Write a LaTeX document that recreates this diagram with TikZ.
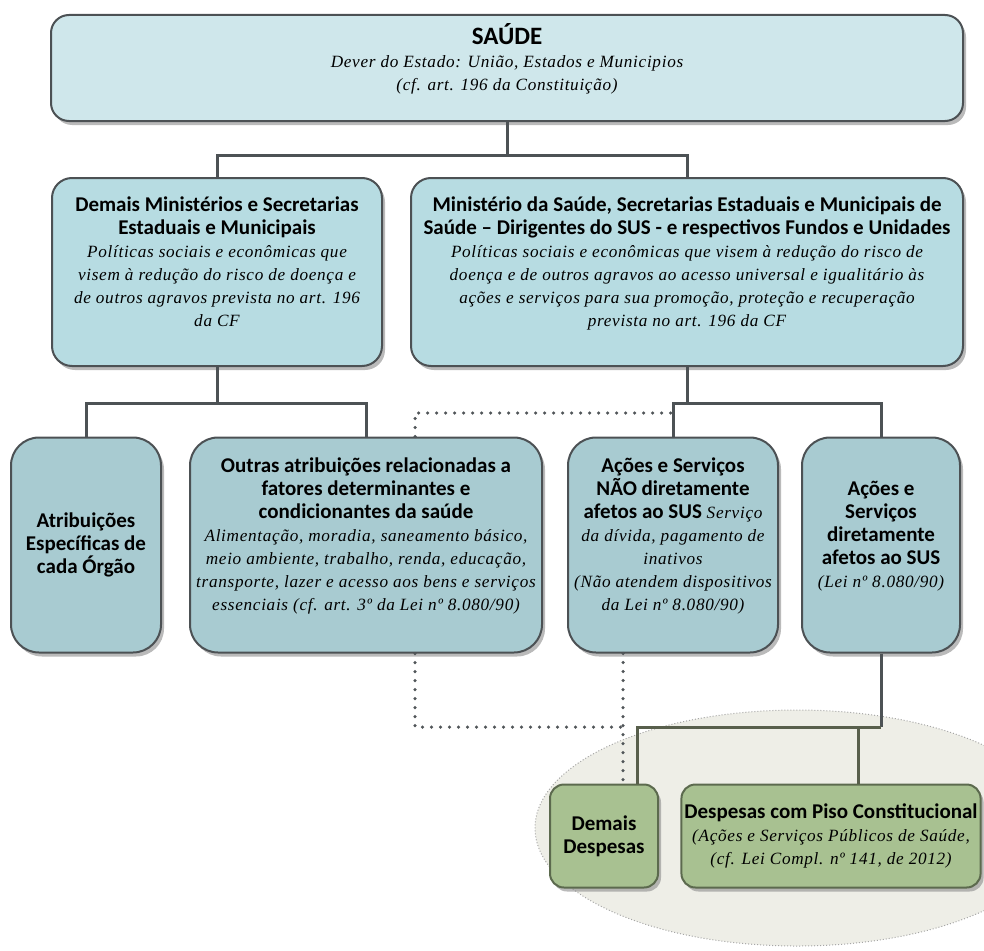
\documentclass[tikz,border=0pt]{standalone}
\usepackage{fontspec}
\setmainfont{Carlito}
\newfontfamily\serifit{Liberation Serif}[LetterSpace=4]
\usetikzlibrary{positioning,shadows}

\definecolor{topfill}{HTML}{CFE7EB}
\definecolor{midfill}{HTML}{B7DCE2}
\definecolor{lowfill}{HTML}{A8CBD1}
\definecolor{greenfill}{HTML}{A8C191}
\definecolor{edge}{HTML}{4C5154}
\definecolor{gedge}{HTML}{5C6A4E}
\definecolor{linec}{HTML}{4D5255}
\definecolor{glinec}{HTML}{585F4C}
\definecolor{dotc}{HTML}{505558}
\definecolor{ellfill}{HTML}{EEEEE7}

\newcommand{\itx}{\serifit\mdseries\itshape\fontsize{17.2}{23}\selectfont}
% empty last line, lifts the text block a little
\newcommand{\liftup}{\\[-2pt]\mbox{}}

\begin{document}
\begin{tikzpicture}[x=1pt, y=-1pt,
  orgbox/.style={draw=edge, line width=2pt, rounded corners=20pt, align=center, inner sep=3pt,
    fill=midfill, font=\fontsize{21}{23}\selectfont\bfseries,
    drop shadow={shadow xshift=3pt, shadow yshift=-4pt, fill=black!45, opacity=.6}},
  topbox/.style={orgbox, fill=topfill, rounded corners=18pt},
  lowbox/.style={orgbox, fill=lowfill, rounded corners=28pt},
  greenbox/.style={orgbox, fill=greenfill, draw=gedge, rounded corners=14pt},
  conn/.style={draw=linec, line width=3pt},
  gconn/.style={draw=glinec, line width=3pt},
  dotline/.style={draw=dotc, line width=3.5pt, line cap=round, dash pattern=on 0pt off 9pt}]
  \useasboundingbox (0,0) rectangle (984,950);

  % area of the expenses
  \filldraw[fill=ellfill, draw=gray!70, dotted, line width=1pt] (797,828) ellipse [x radius=262pt, y radius=118pt];

  \node (saude) at (507,68) [topbox, minimum width=912pt, minimum height=106pt]
    {{\fontsize{25}{23}\selectfont SAÚDE}\\ \itx Dever do Estado: União, Estados e Municipios\\ \itx (cf. art. 196 da Constituição)\liftup};
  \node (demais) at (217,272) [orgbox, minimum width=330pt, minimum height=188pt]
    {Demais Ministérios e Secretarias\\ Estaduais e Municipais\\ \itx Políticas sociais e econômicas que\\ \itx visem à redução do risco de doença e\\ \itx de outros agravos prevista no art. 196\\ \itx da CF\liftup};
  \node (ms) at (687,272) [orgbox, minimum width=552pt, minimum height=188pt]
    {Ministério da Saúde, Secretarias Estaduais e Municipais de\\ Saúde -- Dirigentes do SUS - e respectivos Fundos e Unidades\\ \itx Políticas sociais e econômicas que visem à redução do risco de\\ \itx doença e de outros agravos ao acesso universal e igualitário às\\ \itx ações e serviços para sua promoção, proteção e recuperação\\ \itx prevista no art. 196 da CF\liftup};

  \node (atrib) at (86,545) [lowbox, minimum width=150pt, minimum height=215pt]
    {Atribuições\\ Específicas de\\ cada Órgão};
  \node (outras) at (366,545) [lowbox, minimum width=352pt, minimum height=215pt]
    {Outras atribuições relacionadas a\\ fatores determinantes e\\ condicionantes da saúde\\ \itx Alimentação, moradia, saneamento básico,\\ \itx meio ambiente, trabalho,  renda, educação,\\ \itx transporte, lazer e acesso aos bens e serviços\\ \itx essenciais (cf. art. 3º da Lei nº 8.080/90)\liftup};
  \node (naosus) at (673,545) [lowbox, minimum width=210pt, minimum height=215pt]
    {Ações e Serviços\\ NÃO diretamente\\ afetos ao SUS {\itx Serviço}\\ \itx da dívida, pagamento de\\ \itx inativos\\ \itx (Não atendem dispositivos\\ \itx da Lei nº 8.080/90)\liftup};
  \node (sus) at (881,545) [lowbox, minimum width=158pt, minimum height=215pt]
    {Ações e\\ Serviços\\ diretamente\\ afetos ao SUS\\ \itx (Lei nº 8.080/90)\liftup};

  \node (ddesp) at (604,836) [greenbox, minimum width=108pt, minimum height=103pt]
    {Demais\\ Despesas};
  \node (piso) at (831,836) [greenbox, minimum width=293pt, minimum height=103pt]
    {Despesas com Piso Constitucional\\ \itx (Ações e Serviços Públicos de Saúde,\\ \itx (cf. Lei Compl. nº 141, de 2012)};

  \coordinate (dj) at (415,413);
  \coordinate (dk) at (623,727);
  \coordinate (gk) at (637,727);
  \coordinate (gp) at (858,727);

  \draw[conn] (saude.south) -- ++(0,33) -| (demais.north);
  \draw[conn] (saude.south) -- ++(0,33) -| (ms.north);
  \draw[conn] (demais.south) -- ++(0,36) -| (atrib.north);
  \draw[conn] (demais.south) -- ++(0,36) -| (outras.north);
  \draw[conn] (ms.south) -- ++(0,36) -| (naosus.north);
  \draw[conn] (ms.south) -- ++(0,36) -| (sus.north);

  \draw[dotline] (outras.north -| dj) -- (dj) -- (dj -| naosus.north);
  \draw[dotline] (outras.south -| dj) |- (dk);
  \draw[dotline] (naosus.south -| dk) -- (ddesp.north -| dk);

  \draw[conn] (sus.south) -- (sus.south |- gk);
  \draw[gconn] (sus.south |- gk) -- (gk) -- (ddesp.north -| gk);
  \draw[gconn] (gp) -- (piso.north -| gp);
\end{tikzpicture}
\end{document}
